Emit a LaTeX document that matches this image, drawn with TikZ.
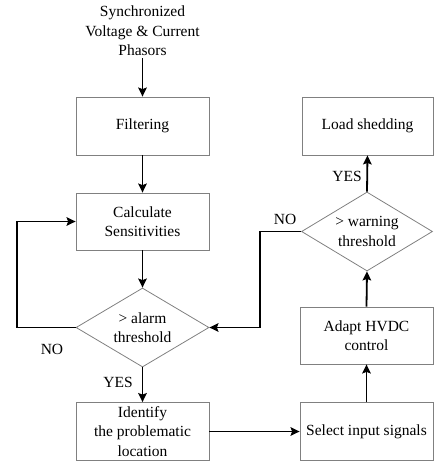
\documentclass[tikz,border=0pt]{standalone}
\usepackage{fontspec}
\setmainfont{Liberation Serif}
\newfontfamily\tmsfont{Liberation Serif}
\usetikzlibrary{shapes.geometric,arrows.meta}
\begin{document}
\begin{tikzpicture}[x=1pt,y=-1pt,
  every node/.style={font=\tmsfont\fontsize{15.5}{19.5}\selectfont},
  procbox/.style={draw=black!50,line width=0.8pt,minimum width=133pt,minimum height=58pt,align=center,inner sep=1pt},
  decision/.style={draw=black!50,line width=0.8pt,shape=diamond,aspect=1.68,minimum width=133pt,minimum height=79pt,align=center,inner sep=0pt},
  flow/.style={draw=black,line width=1.8pt,-{Stealth[length=9pt,width=8.5pt,inset=1.5pt]}},
  lbl/.style={inner sep=0pt}]
\useasboundingbox (0,0) rectangle (435,466);
\node[align=center,inner sep=2pt] (title) at (142.5,31) {Synchronized\\Voltage \& Current\\Phasors};
\node[procbox] (filter) at (142.5,126) {Filtering};
\node[procbox,minimum height=57pt] (calc) at (142.5,221.5) {Calculate\\Sensitivities};
\node[decision] (alarm) at (142.5,327.5) {> alarm\\threshold};
\node[procbox] (ident) at (142.5,431.5) {Identify\\the problematic\\location};
\node[procbox] (select) at (366.5,431.5) {Select input signals};
\node[procbox,minimum height=57pt] (adapt) at (366.5,335.5) {Adapt HVDC\\control};
\node[decision,minimum width=131pt] (warn) at (367,231.5) {> warning\\threshold};
\node[procbox,minimum width=131pt] (load) at (367.5,126) {Load shedding};
\coordinate (a1) at (17,327.5);
\coordinate (w1) at (260,231.5);
\draw[flow] (title.south) -- (filter.north);
\draw[flow] (filter.south) -- (calc.north);
\draw[flow] (calc.south) -- (alarm.north);
\draw[flow] (alarm.south) -- (ident.north);
\draw[flow] (alarm.west) -- (a1) |- (calc.west);
\draw[flow] (ident.east) -- (select.west);
\draw[flow] (select.north) -- (adapt.south);
\draw[flow] (adapt.north) -- (warn.south);
\draw[flow] (warn.north) -- (load.south);
\draw[flow] (warn.west) -- (w1) |- (alarm.east);
\node[lbl] (no1) at (52,349) {NO};
\node[lbl] (yes1) at (118,382) {YES};
\node[lbl] (yes2) at (347,176) {YES};
\node[lbl] (no2) at (285,219) {NO};
\end{tikzpicture}
\end{document}
